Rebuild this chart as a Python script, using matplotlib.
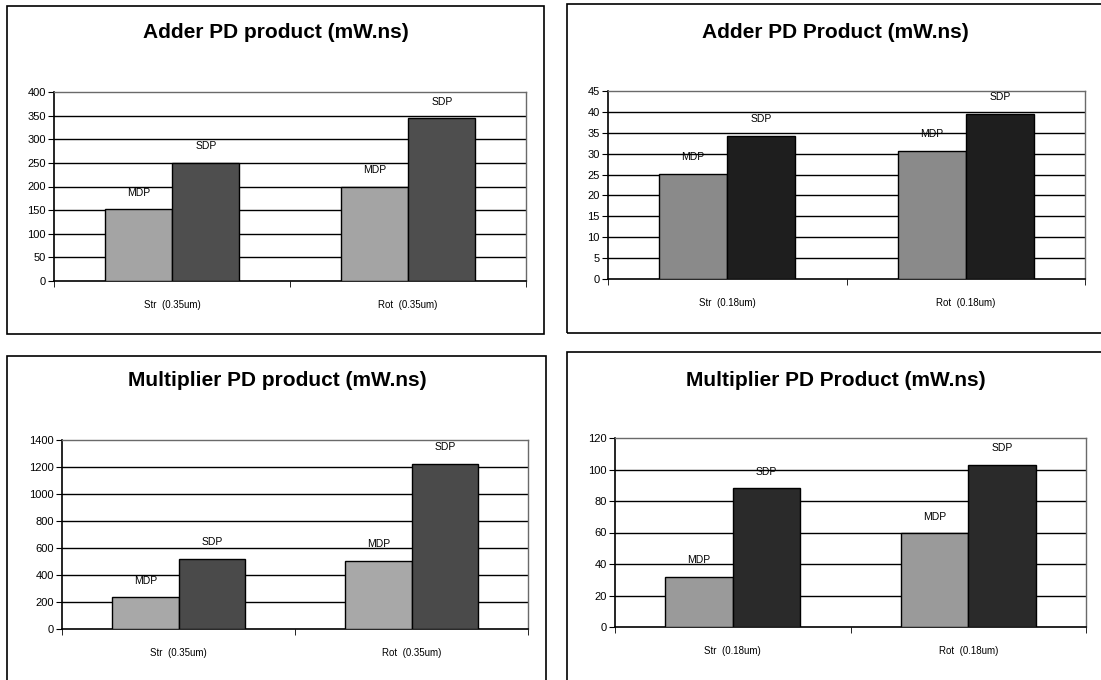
import matplotlib
matplotlib.use("Agg")
import matplotlib.pyplot as plt
import numpy as np
from matplotlib.patches import Rectangle

plt.rcParams["font.family"] = ["Liberation Sans", "DejaVu Sans"]

W, H = 1101, 680

CATS_035 = ["Str  (0.35um)", "Rot  (0.35um)"]
CATS_018 = ["Str  (0.18um)", "Rot  (0.18um)"]

ADDER_035_MDP = [152, 199]
ADDER_035_SDP = [250, 344]
ADDER_018_MDP = [25.1, 30.6]
ADDER_018_SDP = [34.3, 39.5]
MULT_035_MDP = [234, 505]
MULT_035_SDP = [518, 1222]
MULT_018_MDP = [31.9, 59.5]
MULT_018_SDP = [88.1, 103]

SERIES = ["MDP", "SDP"]


def px_rect(x0, y0, x1, y1):
    # pixel box (top-left origin) -> figure fraction [l, b, w, h]
    return [x0 / W, 1 - y1 / H, (x1 - x0) / W, (y1 - y0) / H]


def panel_box(fig, x0, y0, x1, y1):
    l, b, w, h = px_rect(x0, y0, x1, y1)
    fig.add_artist(Rectangle((l, b), w, h, transform=fig.transFigure,
                             fill=False, edgecolor="black", lw=1.2))


def bar_panel(fig, axbox, title, title_xy, cats, mdp, sdp, ymax, ystep, colors):
    ax = fig.add_axes(px_rect(*axbox))
    x = np.arange(len(cats))
    w = 1 / 3.5
    for i, (vals, col) in enumerate(zip([mdp, sdp], colors)):
        xs = x + (i - 0.5) * w
        ax.bar(xs, vals, w, color=col, edgecolor="black", lw=1.0, zorder=3)
        for xi, v in zip(xs, vals):
            ax.annotate(SERIES[i], (xi, v), xytext=(0, 12), textcoords="offset points",
                        ha="center", va="center", fontsize=7.5, zorder=4)
    ax.set_xlim(-0.5, len(cats) - 0.5)
    ax.set_ylim(0, ymax)
    yt = np.arange(0, ymax + ystep / 2, ystep)
    ax.set_yticks(yt)
    ax.set_yticklabels([f"{v:g}" for v in yt], fontsize=8)
    for v in yt[1:-1]:
        ax.axhline(v, color="black", lw=1.0, zorder=1)
    ax.set_xticks(x)
    ax.set_xticklabels(cats, fontsize=7)
    ax.set_xticks(np.arange(-0.5, len(cats)), minor=True)
    ax.tick_params(axis="x", which="major", length=0, pad=14)
    ax.tick_params(axis="x", which="minor", length=4, direction="out")
    ax.tick_params(axis="y", length=4, direction="out", pad=2)
    for s in ["left", "bottom"]:
        ax.spines[s].set_color("black")
        ax.spines[s].set_linewidth(1.2)
    for s in ["top", "right"]:
        ax.spines[s].set_color("#6a6a6a")
        ax.spines[s].set_linewidth(1.0)
    fig.text(title_xy[0] / W, 1 - title_xy[1] / H, title, ha="center", va="center",
             fontsize=15, fontweight="bold")
    return ax


fig = plt.figure(figsize=(W / 100, H / 100), dpi=100)

panel_box(fig, 7, 6, 544, 334)
panel_box(fig, 567, 4, 1105, 333)
panel_box(fig, 7, 356, 546, 690)
panel_box(fig, 567, 352, 1105, 690)

bar_panel(fig, (54, 92, 526, 281), "Adder PD product (mW.ns)", (276, 33),
          CATS_035, ADDER_035_MDP, ADDER_035_SDP, 400, 50, ["#a4a4a4", "#4e4e4e"])
bar_panel(fig, (608, 91, 1085, 279), "Adder PD Product (mW.ns)", (835, 33),
          CATS_018, ADDER_018_MDP, ADDER_018_SDP, 45, 5, ["#8a8a8a", "#1e1e1e"])
bar_panel(fig, (62, 440, 528, 629), "Multiplier PD product (mW.ns)", (277, 381),
          CATS_035, MULT_035_MDP, MULT_035_SDP, 1400, 200, ["#a8a8a8", "#4a4a4a"])
bar_panel(fig, (615, 438, 1086, 627), "Multiplier PD Product (mW.ns)", (836, 381),
          CATS_018, MULT_018_MDP, MULT_018_SDP, 120, 20, ["#9a9a9a", "#2a2a2a"])

fig.savefig("out.png", dpi=100)
